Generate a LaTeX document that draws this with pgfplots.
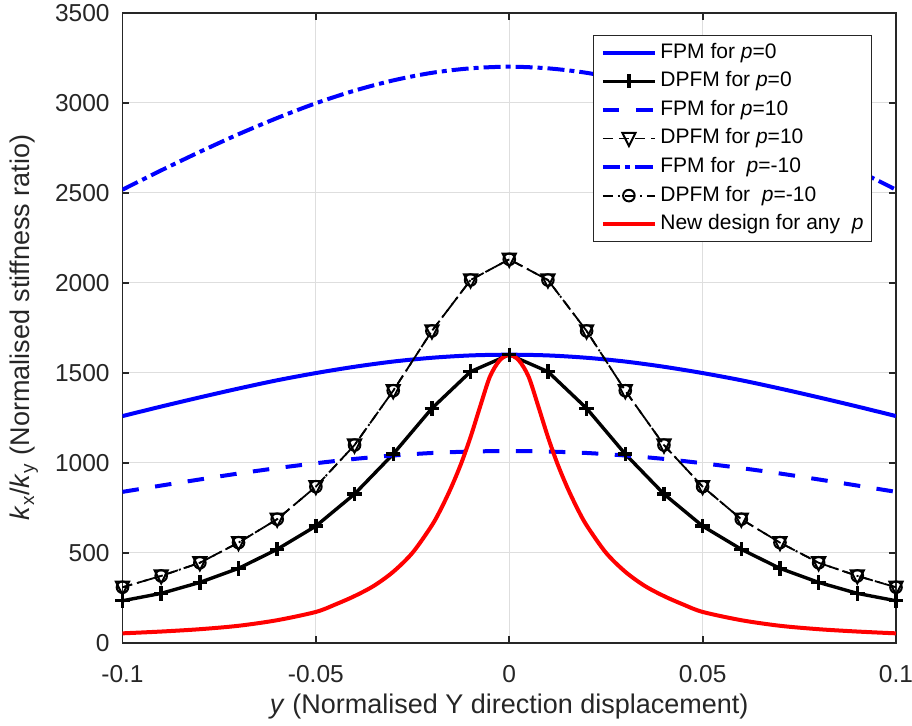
\documentclass[border=0pt]{standalone}
\usepackage{fontspec}
\setmainfont{Liberation Sans}
\usepackage{pgfplots}
\pgfplotsset{compat=1.18}
\definecolor{axgray}{RGB}{38,38,38}
\definecolor{gridgray}{RGB}{222,222,222}
\pgfdeclareplotmark{dtri}{%
  \pgfpathmoveto{\pgfpoint{-\pgfplotmarksize}{0.85\pgfplotmarksize}}%
  \pgfpathlineto{\pgfpoint{\pgfplotmarksize}{0.85\pgfplotmarksize}}%
  \pgfpathlineto{\pgfpoint{0pt}{-1.15\pgfplotmarksize}}%
  \pgfpathclose\pgfusepathqstroke}
\begin{document}
\begin{tikzpicture}
\useasboundingbox (-61.25pt,-41.15pt) rectangle (394.75pt,321.35pt);
\begin{axis}[
  anchor=south west, at={(0pt,0pt)},
  scale only axis, width=386.75pt, height=315pt,
  xmin=-0.1, xmax=0.1, ymin=0, ymax=3500,
  xtick={-0.1,-0.05,0,0.05,0.1}, xticklabels={-0.1,-0.05,0,0.05,0.1},
  ytick={0,500,1000,1500,2000,2500,3000,3500},
  yticklabels={0,500,1000,1500,2000,2500,3000,3500},
  scaled x ticks=false, scaled y ticks=false,
  grid=major, major grid style={gridgray, line width=0.6pt},
  axis line style={axgray, line width=0.9pt},
  tick style={axgray, line width=0.9pt}, major tick length=3.5pt,
  tick align=inside,
  ticklabel style={font=\fontsize{12.25}{14}\selectfont, text=axgray},
  xticklabel style={anchor=base, inner sep=0pt, yshift=-19.75pt},
  yticklabel style={anchor=east, inner sep=0pt, xshift=-6.25pt},
  xlabel={\textit{y} (Normalised Y direction displacement)},
  xlabel style={font=\fontsize{13.5}{16}\selectfont, text=axgray, at={(axis description cs:0.5,-0.1116)}, anchor=base, inner sep=0pt},
  ylabel={\textit{k}\textsubscript{x}/\textit{k}\textsubscript{y} (Normalised stiffness ratio)},
  ylabel style={font=\fontsize{13.5}{16}\selectfont, text=axgray, at={(axis description cs:-0.127,0.5)}, anchor=center, rotate=0},
  legend style={at={(0.9686,0.9646)}, anchor=north east, draw=axgray, line width=0.6pt, fill=white,
    font=\fontsize{10.5}{12}\selectfont, text=black, inner xsep=3.8pt, inner ysep=3.5pt,
    row sep=4.3pt, column sep=0pt, nodes={inner sep=0pt, text height=7.7pt, text depth=2.3pt}},
  legend cell align=left,
  legend image code/.code={\draw[mark repeat=2,mark phase=2,#1] plot coordinates {(0pt,0pt) (13pt,0pt) (26pt,0pt)};},
]
% FPM p=0
\addplot[blue, line width=2pt, smooth] coordinates {
(-0.10,1259) (-0.09,1312) (-0.08,1363) (-0.07,1412) (-0.06,1458) (-0.05,1498) (-0.04,1533) (-0.03,1562) (-0.02,1583) (-0.01,1596) (0,1600)
(0.01,1596) (0.02,1583) (0.03,1562) (0.04,1533) (0.05,1498) (0.06,1458) (0.07,1412) (0.08,1363) (0.09,1312) (0.10,1259)};
\addlegendentry{\,FPM for \textit{p}=0}
% DPFM p=0
\addplot[black, line width=1.7pt, mark=+, mark size=3.6pt] coordinates {
(-0.10,233) (-0.09,274) (-0.08,335) (-0.07,413) (-0.06,519) (-0.05,648) (-0.04,826) (-0.03,1048) (-0.02,1302) (-0.01,1506) (0,1600)
(0.01,1506) (0.02,1302) (0.03,1048) (0.04,826) (0.05,648) (0.06,519) (0.07,413) (0.08,335) (0.09,274) (0.10,233)};
\addlegendentry{\,DPFM for \textit{p}=0}
% FPM p=10
\addplot[blue, line width=2pt, smooth, dash pattern=on 8.25pt off 8.25pt] coordinates {
(-0.10,838) (-0.09,873) (-0.08,907) (-0.07,940) (-0.06,970) (-0.05,997) (-0.04,1021) (-0.03,1040) (-0.02,1054) (-0.01,1062) (0,1065)
(0.01,1062) (0.02,1054) (0.03,1040) (0.04,1021) (0.05,997) (0.06,970) (0.07,940) (0.08,907) (0.09,873) (0.10,838)};
\addlegendentry{\,FPM for \textit{p}=10}
% DPFM p=10
\addplot[black, line width=0.9pt, dash pattern=on 5pt off 3pt, mark=dtri, mark size=3.3pt, mark options={solid, line width=1pt}] coordinates {
(-0.10,308) (-0.09,371) (-0.08,444) (-0.07,556) (-0.06,686) (-0.05,867) (-0.04,1098) (-0.03,1400) (-0.02,1732) (-0.01,2015) (0,2130)
(0.01,2015) (0.02,1732) (0.03,1400) (0.04,1098) (0.05,867) (0.06,686) (0.07,556) (0.08,444) (0.09,371) (0.10,308)};
\addlegendentry{\,DPFM for \textit{p}=10}
% FPM p=-10
\addplot[blue, line width=2pt, smooth, dash pattern=on 8.5pt off 2.5pt on 2.5pt off 2.5pt] coordinates {
(-0.10,2517) (-0.09,2624) (-0.08,2727) (-0.07,2825) (-0.06,2915) (-0.05,2997) (-0.04,3067) (-0.03,3124) (-0.02,3166) (-0.01,3191) (0,3200)
(0.01,3191) (0.02,3166) (0.03,3124) (0.04,3067) (0.05,2997) (0.06,2915) (0.07,2825) (0.08,2727) (0.09,2624) (0.10,2517)};
\addlegendentry{\,FPM for~ \textit{p}=-10}
% DPFM p=-10
\addplot[black, line width=0.9pt, dash pattern=on 5pt off 2.5pt on 1pt off 2.5pt, mark=o, mark size=2.9pt, mark options={solid, line width=1pt}] coordinates {
(-0.10,308) (-0.09,371) (-0.08,444) (-0.07,556) (-0.06,686) (-0.05,867) (-0.04,1098) (-0.03,1400) (-0.02,1732) (-0.01,2015) (0,2130)
(0.01,2015) (0.02,1732) (0.03,1400) (0.04,1098) (0.05,867) (0.06,686) (0.07,556) (0.08,444) (0.09,371) (0.10,308)};
\addlegendentry{\,DPFM for~ \textit{p}=-10}
% New design
\addplot[red, line width=2pt, smooth] coordinates {
(-0.100,52) (-0.090,62) (-0.080,75) (-0.070,94) (-0.060,125) (-0.050,171) (-0.045,212) (-0.040,259) (-0.035,316) (-0.030,394)
(-0.025,500) (-0.020,652) (-0.0175,750) (-0.015,863) (-0.0125,992) (-0.010,1143) (-0.0075,1314) (-0.005,1478) (-0.0025,1568) (0,1600)
(0.0025,1568) (0.005,1478) (0.0075,1314) (0.010,1143) (0.0125,992) (0.015,863) (0.0175,750) (0.020,652) (0.025,500)
(0.030,394) (0.035,316) (0.040,259) (0.045,212) (0.050,171) (0.060,125) (0.070,94) (0.080,75) (0.090,62) (0.100,52)};
\addlegendentry{\,New design for any~ \textit{p}}
\end{axis}
\end{tikzpicture}
\end{document}
